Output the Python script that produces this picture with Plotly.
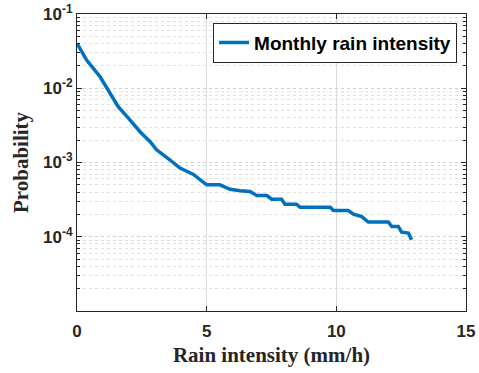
import plotly.graph_objects as go

rain_intensity = [0.0, 0.37, 0.89, 1.27, 1.47, 1.59, 2.04, 2.43, 2.82, 3.07, 3.59, 3.97, 4.49, 5.0,
                  5.51, 5.90, 6.29, 6.67, 6.93, 7.32, 7.51, 7.89, 8.02, 8.47, 8.6, 9.76, 9.89,
                  10.46, 10.66, 10.98, 11.23, 12.0, 12.14, 12.39, 12.52, 12.78, 12.9]
probability = [0.0403, 0.024, 0.0143, 0.00857, 0.0063, 0.00565, 0.00374, 0.0026, 0.00191, 0.00148,
               0.00108, 0.00084, 0.00069, 0.0005,
               0.0005, 0.000436, 0.000417, 0.000407, 0.000359, 0.000359, 0.00032, 0.00032,
               0.000275, 0.000275, 0.00025, 0.00025, 0.000225,
               0.000225, 0.000201, 0.000187, 0.000158, 0.000158, 0.000137, 0.000137, 0.000115,
               0.000112, 0.0000912]

y_tickvals = [1e-4, 1e-3, 1e-2, 1e-1]
y_ticktext = ["10<sup>-4</sup>", "10<sup>-3</sup>", "10<sup>-2</sup>", "10<sup>-1</sup>"]
x_tickvals = [0, 5, 10, 15]

fig = go.Figure()
fig.add_trace(go.Scatter(x=rain_intensity, y=probability, mode="lines",
                         name="Monthly rain intensity",
                         line=dict(color="#0072BD", width=3.5)))

tickfont = dict(family="Liberation Sans", size=17, color="#262626", weight="bold")
titlefont = dict(family="Liberation Serif", size=21, color="#262626", weight="bold")
fig.update_layout(
    width=479, height=373,
    margin=dict(l=77, r=13, t=14, b=62),
    paper_bgcolor="white", plot_bgcolor="white",
    legend=dict(x=0.977, y=0.971, xanchor="right", yanchor="top",
                bordercolor="#262626", borderwidth=1, bgcolor="white",
                tracegroupgap=0, itemwidth=30,
                font=dict(family="Liberation Sans", size=19, color="black", weight="bold")),
    showlegend=True,
)
fig.update_xaxes(range=[0, 15], tickvals=x_tickvals, showgrid=True, gridcolor="#dcdcdc",
                 gridwidth=1, zeroline=False, showline=True, linecolor="#262626", linewidth=1,
                 mirror="allticks", ticks="inside", ticklen=5, tickcolor="#262626",
                 tickfont=tickfont, automargin=False, ticklabelstandoff=5,
                 title=dict(text="Rain intensity (mm/h)", standoff=6, font=titlefont))
fig.update_yaxes(type="log", range=[-5, -1], tickvals=y_tickvals, ticktext=y_ticktext,
                 showgrid=True, gridcolor="#d0d0d0", griddash="dot", gridwidth=1,
                 zeroline=False, showline=True, linecolor="#262626", linewidth=1,
                 mirror="allticks", ticks="inside", ticklen=5, tickcolor="#262626",
                 tickfont=tickfont, automargin=False,
                 minor=dict(dtick="D1", showgrid=True, gridcolor="#e0e0e0", griddash="dot",
                            ticks="inside", ticklen=3, tickcolor="#262626"),
                 title=dict(text="Probability", standoff=8, font=titlefont))

fig.write_html("out.html", post_script="document.body.style.margin='0';",
               config={"displayModeBar": False})
